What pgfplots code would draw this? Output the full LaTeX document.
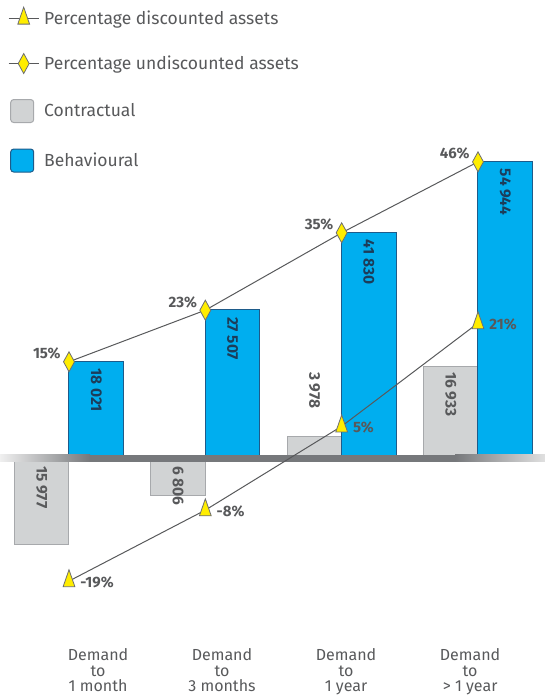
\documentclass[border=0pt]{standalone}
\usepackage{pgfplots}
\pgfplotsset{compat=1.18}
\usepackage{fontspec}
\setmainfont{Fira Sans}
\definecolor{bblue}{HTML}{00AEEF}
\definecolor{bblueedge}{HTML}{1E5B8A}
\definecolor{cgray}{HTML}{D1D3D4}
\definecolor{cgrayedge}{HTML}{A7A9AC}
\definecolor{txtgray}{HTML}{58595B}
\definecolor{linegray}{HTML}{58595B}
\definecolor{axgray}{HTML}{76787B}
\definecolor{myyellow}{HTML}{FFED00}
\definecolor{markedge}{HTML}{6D6E71}
\definecolor{navy}{HTML}{1C3D5A}
\pgfplotsset{
  linelegend/.style={legend image code/.code={\draw[##1, mark repeat=2, mark phase=2] plot coordinates {(0pt,0pt) (15pt,0pt) (30pt,0pt)};}},
  boxlegend/.style={legend image code/.code={\draw[##1, rounded corners=3pt] (2pt,-11.5pt) rectangle (25pt,11.5pt);}},
}
\begin{document}
\begin{tikzpicture}
\useasboundingbox (0,0) rectangle (545pt,695pt);
\pgfplotsset{
  common/.style={
    scale only axis, width=545pt, height=540pt,
    at={(0pt,55pt)}, anchor=south west,
    xmin=-0.5061, xmax=3.4915,
    axis line style={draw=none}, clip=false,
    major tick length=0pt, ytick=\empty,
  }
}
% ---------------- bars (values) ----------------
\begin{axis}[common,
  ymin=-33577.5, ymax=66322.5,
  xtick={0.213,1.122,2.032,2.942},
  xticklabels={{Demand\\to\\1 month},{Demand\\to\\3 months},{Demand\\to\\1 year},{Demand\\to\\> 1 year}},
  xticklabel style={align=center, font=\fontsize{16}{15.8}\selectfont, text=txtgray, inner sep=0pt, anchor=north, yshift=-8pt},
]
\addplot[ybar, bar width=0.4, bar shift=-0.2, fill=cgray, draw=cgrayedge, line width=1pt]
  coordinates {(0,-15977) (1,-6806) (2,3978) (3,16933)};
\addplot[ybar, bar width=0.4, bar shift=0.2, fill=bblue, draw=bblueedge, line width=1pt]
  coordinates {(0,18021) (1,27507) (2,41830) (3,54944)};
% labels of the behavioural bars
\addplot[draw=none, point meta=explicit symbolic, nodes near coords,
  every node near coord/.append style={rotate=-90, anchor=west, inner sep=0pt,
    font=\bfseries\fontsize{15.5}{15.5}\selectfont, text=navy}]
  coordinates {(0.2,16726)[18 021] (1.2,26212)[27 507] (2.2,40535)[41 830] (3.2,53649)[54 944]};
% labels of the contractual bars
\addplot[draw=none, point meta=explicit symbolic, nodes near coords,
  every node near coord/.append style={rotate=-90, anchor=west, inner sep=0pt,
    font=\bfseries\fontsize{15.5}{15.5}\selectfont, text=txtgray}]
  coordinates {(-0.2,-1387)[15 977] (0.8,-1387)[6 806] (1.8,16002)[3 978] (2.8,16002)[16 933]};
\end{axis}
% zero line
\shade[left color=black!6, right color=axgray] (0pt,233pt) rectangle (90pt,240pt);
\fill[axgray] (89.5pt,233pt) rectangle (455.5pt,240pt);
\shade[left color=axgray, right color=black!12] (455pt,233pt) rectangle (545pt,240pt);
% ---------------- percentages ----------------
\begin{axis}[common,
  ymin=-28.14, ymax=55.59, xtick=\empty,
  legend style={at={(0,1.176)}, anchor=north west, xshift=8pt, yshift=-2pt, draw=none, fill=none,
    font=\fontsize{17.5}{17.5}\selectfont, text=txtgray, row sep=25.5pt, inner sep=0pt,
    /tikz/every odd column/.append style={column sep=3pt}},
  legend cell align=left,
]
\addplot[color=linegray, line width=1pt, mark=triangle*, mark size=11.3pt,
  mark options={fill=myyellow, draw=markedge, xscale=0.6, line width=0.8pt},
  point meta=explicit symbolic, nodes near coords,
  every node near coord/.append style={anchor=west, inner sep=0pt, xshift=11pt, yshift=-1pt,
    font=\bfseries\fontsize{15}{15}\selectfont, text=txtgray},
  linelegend]
  coordinates {(0,-19)[-19\%] (1,-8)[-8\%] (2,5)[5\%] (3,21)[21\%]};
\addlegendentry{Percentage discounted assets}
\addplot[color=linegray, line width=1pt, mark=diamond*, mark size=10pt,
  mark options={fill=myyellow, draw=markedge, xscale=0.73, line width=0.8pt},
  point meta=explicit symbolic, nodes near coords,
  every node near coord/.append style={anchor=east, inner sep=0pt, xshift=-8pt, yshift=8pt,
    font=\bfseries\fontsize{15}{15}\selectfont, text=txtgray},
  linelegend]
  coordinates {(0,15)[15\%] (1,23)[23\%] (2,35)[35\%] (3,46)[46\%]};
\addlegendentry{Percentage undiscounted assets}
\addlegendimage{boxlegend, fill=cgray, draw=cgrayedge, line width=1pt}
\addlegendentry{Contractual}
\addlegendimage{boxlegend, fill=bblue, draw=bblueedge, line width=1pt}
\addlegendentry{Behavioural}
\end{axis}
\end{tikzpicture}
\end{document}
